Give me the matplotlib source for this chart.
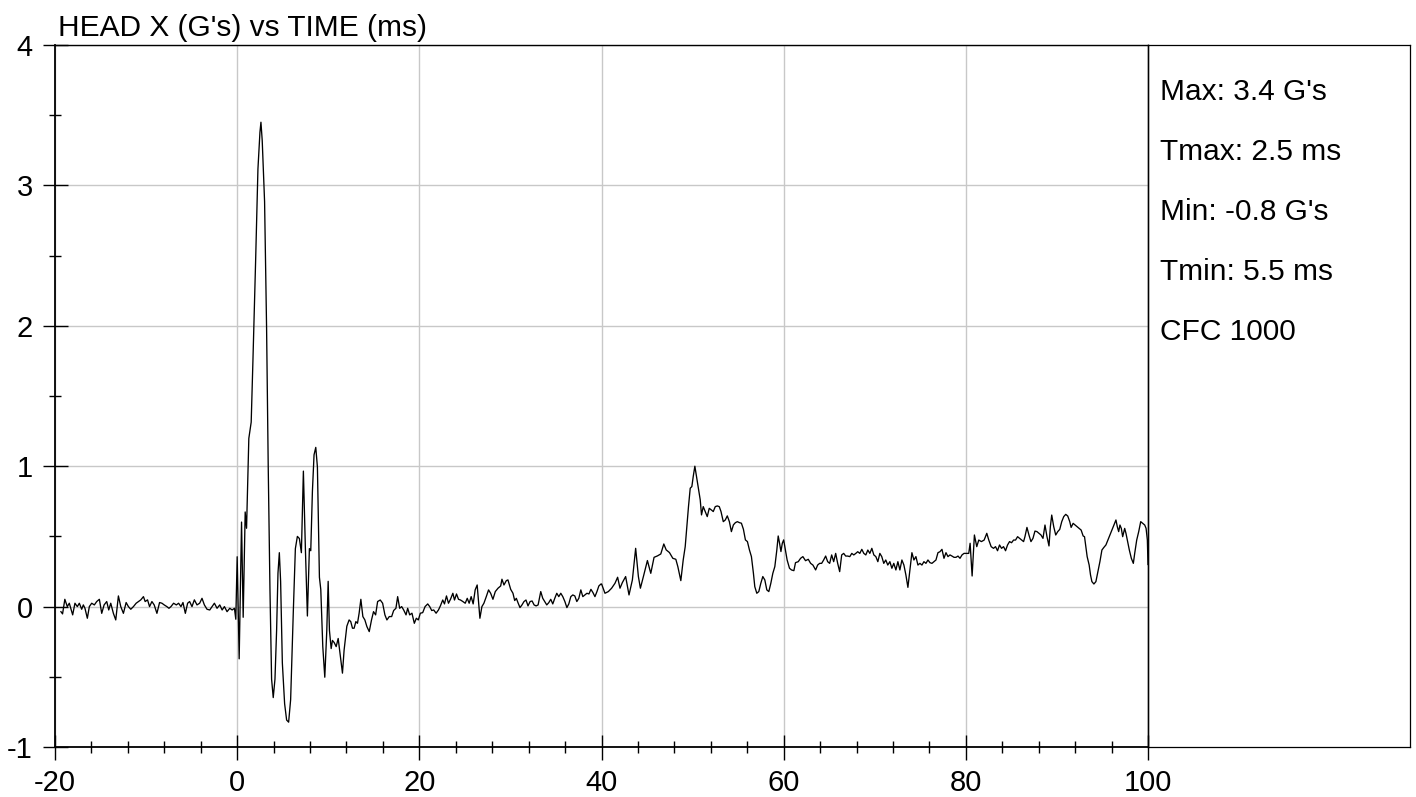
import numpy as np
import matplotlib
matplotlib.use("Agg")
import matplotlib.pyplot as plt
from matplotlib.ticker import MultipleLocator

plt.rcParams["font.family"] = ["Liberation Sans", "DejaVu Sans"]
plt.rcParams["axes.unicode_minus"] = False

# ---- data (time in ms, accel in G's) ----
# pre-trigger noise
t_pre = [-19.35, -19.17, -18.92, -18.65, -18.43, -18.06, -17.81, -17.55, -17.33, -17.07,
         -16.89, -16.71, -16.45, -16.23, -15.97, -15.68, -15.42, -15.13, -14.87, -14.61,
         -14.32, -14.10, -13.88, -13.59, -13.33, -13.04, -12.78, -12.49, -12.19, -11.94,
         -11.68, -11.39, -11.09, -10.84, -10.58, -10.29, -10.10, -9.84, -9.62, -9.36,
         -9.11, -8.81, -8.52, -8.26, -8.01, -7.72, -7.49, -7.27, -6.98, -6.68,
         -6.43, -6.17, -5.95, -5.69, -5.44, -5.22, -4.96, -4.70, -4.41, -4.12,
         -3.86, -3.60, -3.31, -3.01, -2.76, -2.50, -2.21, -1.91, -1.65, -1.40,
         -1.11, -0.81, -0.55, -0.30, -0.15]
g_pre = [-0.036, -0.052, 0.052, 0.0, 0.024, -0.059, 0.024, 0.0, 0.024, -0.019,
         0.012, -0.012, -0.083, 0.0, 0.024, 0.012, 0.036, 0.052, -0.048, 0.012,
         0.036, -0.024, 0.024, -0.048, -0.095, 0.076, 0.0, -0.048, 0.029, 0.0,
         -0.019, 0.0, 0.024, 0.036, 0.048, 0.071, 0.036, 0.048, 0.0, 0.036,
         0.012, -0.048, 0.029, 0.024, 0.012, 0.0, -0.012, 0.0, 0.024, 0.012,
         0.024, 0.0, 0.029, -0.048, 0.024, 0.036, 0.0, 0.048, 0.012, 0.024,
         0.059, 0.012, -0.019, -0.024, 0.0, 0.024, -0.012, 0.012, -0.024, 0.0,
         -0.036, -0.012, -0.024, -0.012, -0.090]

# impact pulse
t_hit = [0.00, 0.22, 0.48, 0.66, 0.88, 1.03, 1.28, 1.54, 1.73, 2.02,
         2.28, 2.50, 2.61, 2.75, 3.01, 3.23, 3.41, 3.60, 3.78, 3.96,
         4.15, 4.33, 4.48, 4.63, 4.77, 4.96, 5.21, 5.43, 5.65, 5.87,
         6.17, 6.39, 6.61, 6.83, 7.05, 7.27, 7.49, 7.71, 7.93, 8.08,
         8.26, 8.44, 8.63, 8.81, 9.03, 9.18, 9.40, 9.62, 9.84, 9.99,
         10.13, 10.32, 10.46, 10.65, 10.87, 11.09, 11.31, 11.56]
g_hit = [0.355, -0.372, 0.602, -0.076, 0.674, 0.558, 1.198, 1.314, 1.750, 2.448,
         3.116, 3.378, 3.450, 3.320, 2.884, 1.983, 0.994, 0.122, -0.517, -0.648,
         -0.517, -0.169, 0.238, 0.384, 0.180, -0.401, -0.692, -0.808, -0.823, -0.663,
         -0.023, 0.413, 0.500, 0.485, 0.384, 0.965, 0.413, -0.067, 0.413, 0.398,
         0.820, 1.081, 1.134, 0.994, 0.209, 0.122, -0.285, -0.503, -0.169, 0.180,
         -0.169, -0.299, -0.241, -0.256, -0.285, -0.227, -0.343, -0.474]

# recovery 12-29 ms
t_rec = [11.74, 12.04, 12.29, 12.47, 12.66, 12.84, 13.03, 13.21, 13.39, 13.58,
         13.80, 14.02, 14.24, 14.50, 14.75, 14.97, 15.20, 15.42, 15.71, 15.97,
         16.22, 16.44, 16.70, 16.96, 17.18, 17.43, 17.62, 17.84, 18.06, 18.28,
         18.54, 18.72, 18.94, 19.19, 19.45, 19.67, 19.89, 20.11, 20.37, 20.63,
         20.92, 21.14, 21.36, 21.58, 21.84, 22.10, 22.31, 22.57, 22.76, 22.98,
         23.20, 23.42, 23.68, 23.86, 24.08, 24.30, 24.52, 24.78, 25.04, 25.26,
         25.47, 25.69, 25.91, 26.13, 26.35, 26.65, 26.87, 27.09, 27.35, 27.60,
         27.83, 28.08, 28.34, 28.64, 28.93]
g_rec = [-0.31, -0.14, -0.095, -0.107, -0.154, -0.154, -0.107, -0.119, -0.047, 0.052,
         -0.071, -0.095, -0.142, -0.178, -0.095, -0.036, -0.059, 0.036, 0.047, 0.024,
         -0.059, -0.095, -0.071, -0.071, -0.028, -0.012, 0.071, -0.012, 0.0, -0.024,
         -0.059, -0.012, -0.059, -0.047, -0.119, -0.083, -0.095, -0.047, -0.043, 0.0,
         0.019, 0.0, -0.028, -0.024, -0.047, -0.024, 0.005, 0.047, 0.019, 0.076,
         0.024, 0.052, 0.095, 0.047, 0.09, 0.052, 0.047, 0.036, 0.024, 0.059,
         0.024, 0.071, 0.019, 0.119, 0.154, -0.083, 0.0, 0.024, 0.071, 0.119,
         0.095, 0.052, 0.107, 0.131, 0.147]

# 29-40 ms
t_mid = [29.07, 29.29, 29.55, 29.73, 30.03, 30.28, 30.47, 30.65, 30.83, 31.05,
         31.27, 31.49, 31.71, 31.93, 32.16, 32.38, 32.60, 32.82, 33.04, 33.33,
         33.55, 33.77, 33.99, 34.21, 34.43, 34.65, 34.87, 35.09, 35.31, 35.53,
         35.75, 35.98, 36.20, 36.41, 36.63, 36.85, 37.07, 37.29, 37.51, 37.73,
         37.95, 38.17, 38.40, 38.62, 38.84, 39.06, 39.28, 39.50, 39.71, 39.94]
g_mid = [0.195, 0.154, 0.185, 0.19, 0.123, 0.095, 0.043, 0.059, 0.028, -0.007,
         0.012, 0.036, 0.047, 0.005, 0.036, 0.040, 0.012, 0.005, 0.012, 0.107,
         0.059, 0.036, 0.012, 0.028, 0.052, 0.019, 0.059, 0.095, 0.071, 0.095,
         0.071, 0.036, -0.007, 0.019, 0.071, 0.083, 0.076, 0.036, 0.059, 0.119,
         0.071, 0.083, 0.095, 0.090, 0.123, 0.10, 0.071, 0.107, 0.147, 0.161]

# second hump 40-60 ms
t_bump = [40.01, 40.38, 40.75, 41.11, 41.48, 41.77, 42.03, 42.29, 42.65, 43.02,
          43.39, 43.75, 44.05, 44.27, 44.60, 45.04, 45.41, 45.77, 46.14, 46.51,
          46.84, 47.10, 47.46, 47.83, 48.16, 48.38, 48.71, 48.97, 49.19, 49.37,
          49.55, 49.74, 49.92, 50.07, 50.25, 50.43, 50.65, 50.84, 50.98, 51.17,
          51.39, 51.61, 51.83, 52.05, 52.27, 52.49, 52.71, 52.93, 53.12, 53.37,
          53.59, 53.81, 54.04, 54.26, 54.48, 54.70, 54.92, 55.14, 55.36, 55.58,
          55.80, 56.02, 56.24, 56.46, 56.68, 56.83, 57.05, 57.27, 57.49, 57.71,
          57.93, 58.15, 58.37, 58.59, 58.81, 59.03, 59.25, 59.40, 59.55, 59.70,
          59.85, 60.00]
g_bump = [0.161, 0.095, 0.107, 0.131, 0.166, 0.209, 0.131, 0.171, 0.214, 0.083,
          0.19, 0.415, 0.214, 0.131, 0.214, 0.328, 0.237, 0.351, 0.361, 0.375,
          0.446, 0.404, 0.385, 0.344, 0.337, 0.285, 0.185, 0.332, 0.427, 0.57,
          0.712, 0.843, 0.855, 0.926, 1.00, 0.926, 0.831, 0.76, 0.653, 0.712,
          0.677, 0.641, 0.70, 0.689, 0.677, 0.712, 0.717, 0.712, 0.677, 0.605,
          0.617, 0.646, 0.605, 0.534, 0.582, 0.598, 0.605, 0.598, 0.594, 0.551,
          0.475, 0.463, 0.404, 0.356, 0.237, 0.142, 0.095, 0.107, 0.166, 0.214,
          0.19, 0.119, 0.107, 0.166, 0.237, 0.285, 0.404, 0.503, 0.451, 0.392,
          0.451, 0.475]

# 60-80 ms
t_late = [60.38, 60.64, 60.86, 61.12, 61.30, 61.60, 61.86, 62.11, 62.40, 62.70,
          62.96, 63.21, 63.51, 63.73, 63.95, 64.17, 64.39, 64.61, 64.83, 65.05,
          65.27, 65.49, 65.71, 65.93, 66.15, 66.37, 66.59, 66.81, 67.03, 67.26,
          67.48, 67.70, 67.92, 68.13, 68.36, 68.58, 68.80, 69.02, 69.24, 69.46,
          69.68, 69.90, 70.12, 70.34, 70.56, 70.77, 70.99, 71.21, 71.43, 71.66,
          71.88, 72.09, 72.32, 72.54, 72.76, 72.98, 73.20, 73.42, 73.64, 73.86,
          74.08, 74.30, 74.52, 74.74, 74.96, 75.18, 75.40, 75.62, 75.84, 76.06,
          76.28, 76.50, 76.72, 76.94, 77.16, 77.38, 77.60, 77.82, 78.04, 78.26,
          78.48, 78.70, 78.92, 79.14, 79.36, 79.58, 79.80]
g_late = [0.332, 0.273, 0.261, 0.256, 0.313, 0.32, 0.344, 0.356, 0.327, 0.337,
          0.308, 0.296, 0.261, 0.296, 0.308, 0.308, 0.332, 0.36, 0.32, 0.308,
          0.368, 0.32, 0.379, 0.308, 0.249, 0.368, 0.379, 0.36, 0.36, 0.356,
          0.379, 0.368, 0.379, 0.391, 0.379, 0.408, 0.379, 0.368, 0.403, 0.379,
          0.415, 0.368, 0.356, 0.32, 0.379, 0.356, 0.308, 0.332, 0.296, 0.32,
          0.273, 0.308, 0.261, 0.32, 0.261, 0.332, 0.296, 0.225, 0.137, 0.261,
          0.384, 0.332, 0.356, 0.296, 0.308, 0.296, 0.32, 0.308, 0.332, 0.313,
          0.308, 0.32, 0.332, 0.384, 0.391, 0.408, 0.344, 0.384, 0.356, 0.368,
          0.36, 0.351, 0.351, 0.36, 0.344, 0.368, 0.379]

# 80-100 ms
t_end = [80.32, 80.47, 80.69, 80.94, 81.20, 81.42, 81.71, 82.01, 82.30, 82.52,
         82.78, 83.04, 83.26, 83.48, 83.70, 83.92, 84.14, 84.36, 84.58, 84.80,
         85.02, 85.24, 85.46, 85.68, 85.90, 86.12, 86.34, 86.49, 86.71, 86.93,
         87.15, 87.37, 87.59, 87.81, 88.03, 88.25, 88.47, 88.69, 88.91, 89.13,
         89.28, 89.43, 89.65, 89.87, 90.09, 90.31, 90.53, 90.75, 90.97, 91.19,
         91.41, 91.56, 91.78, 92.00, 92.22, 92.44, 92.66, 92.88, 93.03, 93.18,
         93.32, 93.54, 93.69, 93.84, 94.06, 94.28, 94.50, 94.72, 94.94, 95.16,
         95.38, 95.60, 95.82, 96.04, 96.26, 96.48, 96.63, 96.78, 96.92, 97.07,
         97.22, 97.44, 97.58, 97.73, 97.95, 98.17, 98.39, 98.54, 98.76, 98.98,
         99.20, 99.42, 99.64, 99.79, 99.93, 100.0]
g_end = [0.379, 0.451, 0.218, 0.51, 0.427, 0.474, 0.463, 0.474, 0.522, 0.474,
         0.427, 0.415, 0.427, 0.398, 0.439, 0.415, 0.427, 0.398, 0.439, 0.463,
         0.455, 0.474, 0.474, 0.498, 0.486, 0.474, 0.463, 0.498, 0.564, 0.51,
         0.463, 0.486, 0.538, 0.534, 0.522, 0.51, 0.486, 0.581, 0.498, 0.432,
         0.569, 0.652, 0.569, 0.51, 0.534, 0.55, 0.605, 0.641, 0.657, 0.645,
         0.605, 0.564, 0.593, 0.581, 0.569, 0.557, 0.545, 0.503, 0.498, 0.422,
         0.356, 0.296, 0.225, 0.178, 0.161, 0.178, 0.249, 0.32, 0.403, 0.422,
         0.439, 0.474, 0.51, 0.545, 0.581, 0.617, 0.569, 0.534, 0.581, 0.557,
         0.498, 0.557, 0.522, 0.474, 0.403, 0.344, 0.308, 0.379, 0.474, 0.534,
         0.605, 0.593, 0.581, 0.557, 0.474, 0.30]

stats = ["Max: 3.4 G's", "Tmax: 2.5 ms", "Min: -0.8 G's", "Tmin: 5.5 ms", "CFC 1000"]

time_ms = np.concatenate([t_pre, t_hit, t_rec, t_mid, t_bump, t_late, t_end])
head_x = np.concatenate([g_pre, g_hit, g_rec, g_mid, g_bump, g_late, g_end])

W, H = 1416, 797
fig = plt.figure(figsize=(W / 100, H / 100), dpi=100)

# main plot: x 55..1148 px, y 45..747 px
ax = fig.add_axes([55 / W, 50 / H, 1093 / W, 702 / H])
ax.plot(time_ms, head_x, color="black", lw=0.95)
ax.set_xlim(-20, 100)
ax.set_ylim(-1, 4)
ax.xaxis.set_major_locator(MultipleLocator(20))
ax.xaxis.set_minor_locator(MultipleLocator(4))
ax.yaxis.set_major_locator(MultipleLocator(1))
ax.yaxis.set_minor_locator(MultipleLocator(0.5))
ax.set_axisbelow(True)
ax.grid(True, which="major", color="#c8c8c8", lw=1.0)
ax.tick_params(which="major", direction="inout", length=18, width=1.0,
               labelsize=21, pad=7, top=False, right=False)
ax.tick_params(which="minor", direction="inout", length=9, width=1.0,
               top=False, right=False)
for side in ["left", "bottom"]:
    ax.spines[side].set_linewidth(1.3)
for side in ["top", "right"]:
    ax.spines[side].set_linewidth(1.0)

# stats box on the right
bx = fig.add_axes([1148 / W, 50 / H, 262 / W, 702 / H])
bx.set_xticks([])
bx.set_yticks([])
bx.patch.set_alpha(0)
for side in bx.spines:
    bx.spines[side].set_linewidth(0.9)

for i, s in enumerate(stats):
    fig.text(1160 / W, 1 - (100 + 60 * i) / H, s, fontsize=21.5, va="baseline")

fig.text(58 / W, 1 - 36 / H, "HEAD X (G's) vs TIME (ms)", fontsize=21.5, va="baseline")

fig.savefig("out.png", dpi=100)
